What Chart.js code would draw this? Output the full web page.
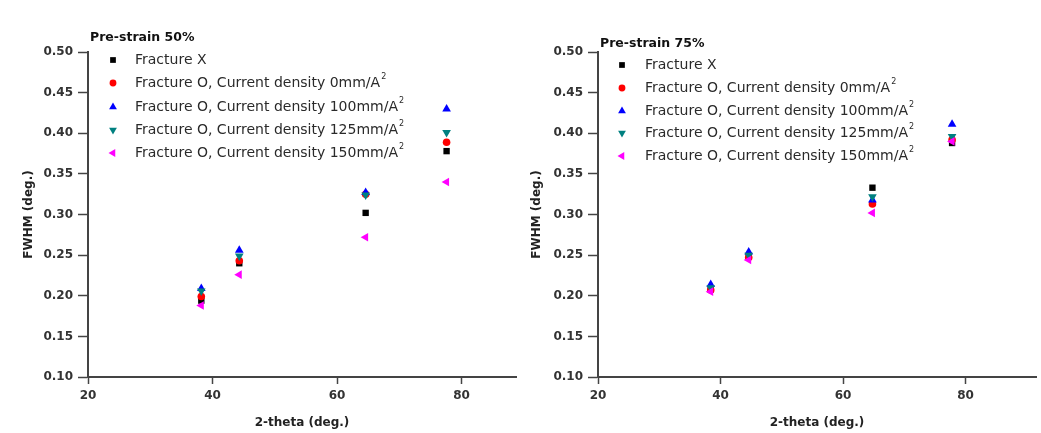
<!DOCTYPE html>
<html><head><meta charset="utf-8">
<script src="https://cdn.jsdelivr.net/npm/chart.js@4/dist/chart.umd.min.js"></script>
<style>
html,body{margin:0;padding:0;background:#fff;overflow:hidden}
#wrap{position:relative;width:1041px;height:433px}
canvas{position:absolute;top:0}
</style></head>
<body><div id="wrap">
<canvas id="c1" width="521" height="433" style="left:0"></canvas>
<canvas id="c2" width="521" height="433" style="left:520px"></canvas>
</div>
<script>
// ---- data ----
const legendMain = ['Fracture X','Fracture O, Current density 0mm/A','Fracture O, Current density 100mm/A','Fracture O, Current density 125mm/A','Fracture O, Current density 150mm/A'];
const legendSup = ['', '2', '2', '2', '2'];
const panelTitles = ['Pre-strain 50%', 'Pre-strain 75%'];
const xAxisTitle = '2-theta (deg.)';
const yAxisTitle = 'FWHM (deg.)';
const xTickValues = [20, 40, 60, 80];
const yTickValues = [0.10, 0.15, 0.20, 0.25, 0.30, 0.35, 0.40, 0.45, 0.50];

// Pre-strain 50%
const twoThetaLeft = [38.2, 44.3, 64.6, 77.6];
const left_fracX   = [0.194, 0.240, 0.302, 0.378];
const left_cd0     = [0.199, 0.243, 0.325, 0.389];
const left_cd100   = [0.209, 0.256, 0.327, 0.430];
const left_cd125   = [0.206, 0.249, 0.324, 0.401];
const left_cd150   = [0.188, 0.226, 0.272, 0.340];

// Pre-strain 75%
const twoThetaRight = [38.4, 44.6, 64.8, 77.8];
const right_fracX   = [0.208, 0.249, 0.333, 0.388];
const right_cd0     = [0.207, 0.247, 0.313, 0.392];
const right_cd100   = [0.214, 0.254, 0.318, 0.411];
const right_cd125   = [0.210, 0.250, 0.322, 0.396];
const right_cd150   = [0.205, 0.244, 0.302, 0.390];

// ---- styles ----
const colors = ['#000000', '#ff0000', '#0000ff', '#008080', '#ff00ff'];
const styles = ['rect', 'circle', 'triangle', 'triangle', 'triangle'];
const rotations = [0, 0, 0, 180, 270];
const radii = [4.5, 3.8, 5, 5, 5];

function toPoints(xs, ys) { return xs.map((x, i) => ({x: x, y: ys[i]})); }

function buildDatasets(xs, series) {
  return series.map((ys, i) => ({
    label: legendMain[i] + (legendSup[i] ? '\u00B2' : ''),
    data: toPoints(xs, ys),
    showLine: false,
    pointStyle: styles[i],
    rotation: rotations[i],
    pointRadius: radii[i],
    pointBorderWidth: 0,
    backgroundColor: colors[i],
    borderColor: colors[i],
    order: 5 - i
  }));
}

const insetLegend = {
  id: 'insetLegend',
  afterDraw(chart, args, opts) {
    const ctx = chart.ctx;
    ctx.save();
    ctx.textBaseline = 'middle';
    ctx.textAlign = 'left';
    ctx.fillStyle = '#111';
    ctx.font = 'bold 12.5px "DejaVu Sans"';
    ctx.fillText(opts.title, opts.titleX, opts.titleY);
    chart.data.datasets.forEach((ds, i) => {
      const y = opts.rows[i];
      ctx.fillStyle = ds.backgroundColor;
      ctx.strokeStyle = ds.borderColor;
      Chart.helpers.drawPoint(ctx, {pointStyle: ds.pointStyle, rotation: ds.rotation, radius: radii[i] * 0.9, borderWidth: 0}, opts.markerX, y);
      ctx.fillStyle = '#2a2a2a';
      ctx.font = '14px "DejaVu Sans"';
      const main = legendMain[i];
      ctx.fillText(main, opts.textX, y);
      if (legendSup[i]) {
        const w = ctx.measureText(main).width;
        ctx.font = '8px "DejaVu Sans"';
        ctx.fillText(legendSup[i], opts.textX + w + 1, y - 6);
      }
    });
    ctx.restore();
  }
};

const tickFont = {family: 'DejaVu Sans', size: 12, weight: 'bold'};
const titleFont = {family: 'DejaVu Sans', size: 12, weight: 'bold'};
const axisColor = '#444';

function makeOptions(xMax, yAxisWidth, padRight, legendOpts, yTitlePad) {
  return {
    responsive: false,
    animation: false,
    devicePixelRatio: 1,
    layout: {padding: {top: 52, right: padRight, bottom: 0, left: 0}},
    plugins: {legend: {display: false}, tooltip: {enabled: false}, insetLegend: legendOpts},
    scales: {
      x: {
        type: 'linear', min: 20, max: xMax,
        afterBuildTicks: s => { s.ticks = xTickValues.map(v => ({value: v})); },
        afterFit: s => { s.height = 56; },
        grid: {drawOnChartArea: false, drawTicks: true, tickLength: 7, tickWidth: 1.5, tickColor: axisColor},
        border: {display: true, color: axisColor, width: 2},
        ticks: {font: tickFont, color: '#333', padding: 5, maxRotation: 0, autoSkip: false},
        title: {display: true, text: xAxisTitle, font: titleFont, color: '#222', padding: {top: 0, bottom: 3}}
      },
      y: {
        type: 'linear', min: 0.10, max: 0.50,
        afterBuildTicks: s => { s.ticks = yTickValues.map(v => ({value: v})); },
        afterFit: s => { s.width = yAxisWidth; },
        grid: {drawOnChartArea: false, drawTicks: true, tickLength: 10, tickWidth: 1.5, tickColor: axisColor},
        border: {display: true, color: axisColor, width: 2},
        ticks: {font: tickFont, color: '#333', padding: 5, autoSkip: false, callback: v => Number(v).toFixed(2)},
        title: {display: true, text: yAxisTitle, font: titleFont, color: '#222', padding: {top: yTitlePad, bottom: 0}}
      }
    }
  };
}

new Chart(document.getElementById('c1'), {
  type: 'scatter',
  data: {datasets: buildDatasets(twoThetaLeft, [left_fracX, left_cd0, left_cd100, left_cd125, left_cd150])},
  options: makeOptions(88.75, 88, 1, {title: panelTitles[0], titleX: 90, titleY: 38, markerX: 113, textX: 135, rows: [60, 83, 107, 130, 153]}, 22),
  plugins: [insetLegend]
});

new Chart(document.getElementById('c2'), {
  type: 'scatter',
  data: {datasets: buildDatasets(twoThetaRight, [right_fracX, right_cd0, right_cd100, right_cd125, right_cd150])},
  options: makeOptions(91.5, 78, 1, {title: panelTitles[1], titleX: 80, titleY: 44, markerX: 102, textX: 125, rows: [65, 88, 111, 133, 156]}, 10),
  plugins: [insetLegend]
});
</script>
</body></html>
